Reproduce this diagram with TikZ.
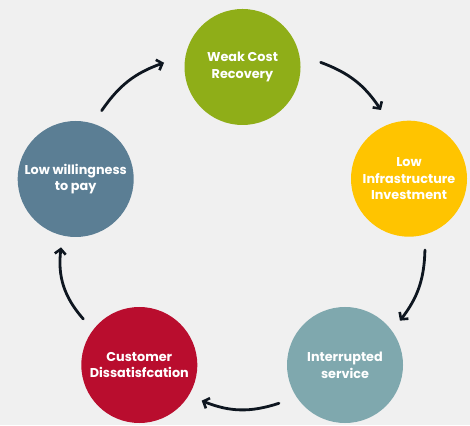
\documentclass[tikz,border=0pt]{standalone}
\usepackage{fontspec}
\setmainfont{Poppins}
\usetikzlibrary{arrows.meta}
\definecolor{bgc}{RGB}{240,240,240}
\definecolor{cgreen}{RGB}{143,174,24}
\definecolor{cyellow}{RGB}{255,196,0}
\definecolor{cteal}{RGB}{127,168,174}
\definecolor{cred}{RGB}{185,13,46}
\definecolor{cslate}{RGB}{91,126,148}
\definecolor{arrowc}{RGB}{14,22,32}
\tikzset{
  stage/.style={circle, minimum size=116pt, inner sep=0pt, fill=#1,
    text=white, align=center, font=\fontsize{12.8}{16.7}\selectfont\bfseries},
  flow/.style={draw=arrowc, line width=2.8pt, line cap=round, line join=round,
    -{Straight Barb[length=5pt,width=11pt,line width=2.6pt]}}
}
\begin{document}
\begin{tikzpicture}[x=1pt,y=1pt]
  \fill[bgc] (0,0) rectangle (470,425);
  \useasboundingbox (0,0) rectangle (470,425);

  \node[stage=cgreen]  (wc) at (242.5,358) {Weak Cost\\Recovery};
  \node[stage=cyellow] (li) at (409,246.3) {Low\\Infrastructure\\Investment};
  \node[stage=cteal]   (is) at (345,60)    {Interrupted\\service};
  \node[stage=cred]    (cd) at (139.3,60)  {Customer\\Dissatisfcation};
  \node[stage=cslate]  (wl) at (75.7,246)  {Low willingness\\to pay};

  % arrow end points around the cycle
  \path (wl) ++(69.2:73.1)   coordinate (a1s);
  \path (wc) ++(176.9:78.6)  coordinate (a1e);
  \path (wc) ++(3.4:78.3)    coordinate (a2s);
  \path (li) ++(112.2:74.2)  coordinate (a2e);
  \path (li) ++(-77.4:73.1)  coordinate (a3s);
  \path (is) ++(38.9:70.6)   coordinate (a3e);
  \path (is) ++(210.1:76.3)  coordinate (a4s);
  \path (cd) ++(-29.8:71.9)  coordinate (a4e);
  \path (cd) ++(140.6:72.5)  coordinate (a5s);
  \path (wl) ++(257.9:69.9)  coordinate (a5e);

  \draw[flow] (a1s) to[bend left=18] (a1e);
  \draw[flow] (a2s) to[bend left=18] (a2e);
  \draw[flow] (a3s) to[bend left=18] (a3e);
  \draw[flow] (a4s) to[bend left=20] (a4e);
  \draw[flow] (a5s) to[bend left=24] (a5e);
\end{tikzpicture}
\end{document}
